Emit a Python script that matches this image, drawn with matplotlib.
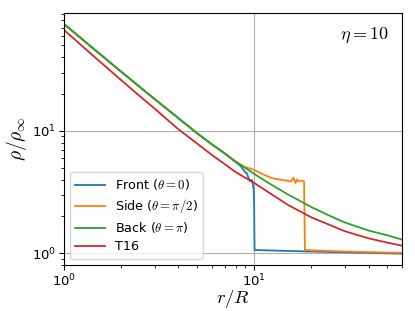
import numpy as np
import matplotlib
matplotlib.use("Agg")
import matplotlib.pyplot as plt

plt.rcParams['mathtext.fontset'] = 'cm'

# values (r/R, rho/rho_inf)
r_back = [1, 1.25, 1.5, 2, 2.5, 3, 4, 5, 6, 7, 8, 10, 12, 15, 20, 25, 30, 40, 50, 60]
rho_back = [75, 56, 44.2, 30.5, 22.9, 18.2, 12.7, 9.6, 7.75, 6.55, 5.6, 4.45, 3.72, 3.03, 2.38, 2.02, 1.78, 1.53, 1.4, 1.29]

r_t16 = [1, 1.25, 1.5, 2, 2.5, 3, 4, 5, 6, 7, 8, 10, 12, 15, 20, 25, 30, 40, 50, 60]
rho_t16 = [67, 49.3, 38.4, 26, 19.3, 15.2, 10.3, 7.9, 6.35, 5.35, 4.6, 3.75, 3.12, 2.49, 1.96, 1.7, 1.51, 1.32, 1.22, 1.15]

r_front = [1, 1.5, 2, 3, 4, 5, 6, 7, 8, 8.5, 8.97, 9.15, 9.33, 9.54, 9.74, 9.85, 9.95, 10.0, 10.05, 20, 40, 60]
rho_front = [75, 44.2, 30.5, 18.2, 12.7, 9.6, 7.75, 6.55, 5.55, 5.15, 4.6, 4.5, 4.14, 3.89, 3.97, 3.6, 3.39, 2.5, 1.06, 1.03, 1.005, 0.99]

r_side = [1, 1.5, 2, 3, 4, 5, 6, 7, 8, 8.5, 9, 10, 11, 12.4, 14, 15.1, 15.6, 16.1, 16.5, 16.8, 17.2, 17.8, 18.3, 18.4, 18.5, 30, 60]
rho_side = [75, 44.2, 30.5, 18.2, 12.7, 9.6, 7.75, 6.55, 5.6, 5.3, 5.05, 4.8, 4.45, 4.1, 3.97, 3.9, 3.85, 4.14, 3.75, 4.0, 3.85, 3.92, 3.86, 2.0, 1.06, 1.03, 1.005]

eta = 10

fig = plt.figure(figsize=(4.15, 3.11), dpi=100)
ax = fig.add_axes([0.154, 0.148, 0.815, 0.81])

ax.plot(r_front, rho_front, color='C0', lw=1.3, label=r'Front ($\theta=0$)')
ax.plot(r_side, rho_side, color='C1', lw=1.3, label=r'Side ($\theta=\pi/2$)')
ax.plot(r_back, rho_back, color='C2', lw=1.3, label=r'Back ($\theta=\pi$)')
ax.plot(r_t16, rho_t16, color='C3', lw=1.3, label='T16')

ax.set_xscale('log')
ax.set_yscale('log')
ax.set_xlim(1, 60)
ax.set_ylim(0.8, 92)
ax.grid(True, which='major')
ax.tick_params(labelsize=9.5, pad=2)

ax.set_xlabel(r'$r/R$', fontsize=13.5, labelpad=-1)
ax.set_ylabel(r'$\rho/\rho_\infty$', fontsize=14, labelpad=2)
ax.text(0.96, 0.95, r'$\eta = {}$'.format(eta), transform=ax.transAxes,
        ha='right', va='top', fontsize=13)

ax.legend(loc='lower left', fontsize=9.2, labelspacing=0.4, handlelength=2.3)

fig.savefig('out.png', dpi=100)
